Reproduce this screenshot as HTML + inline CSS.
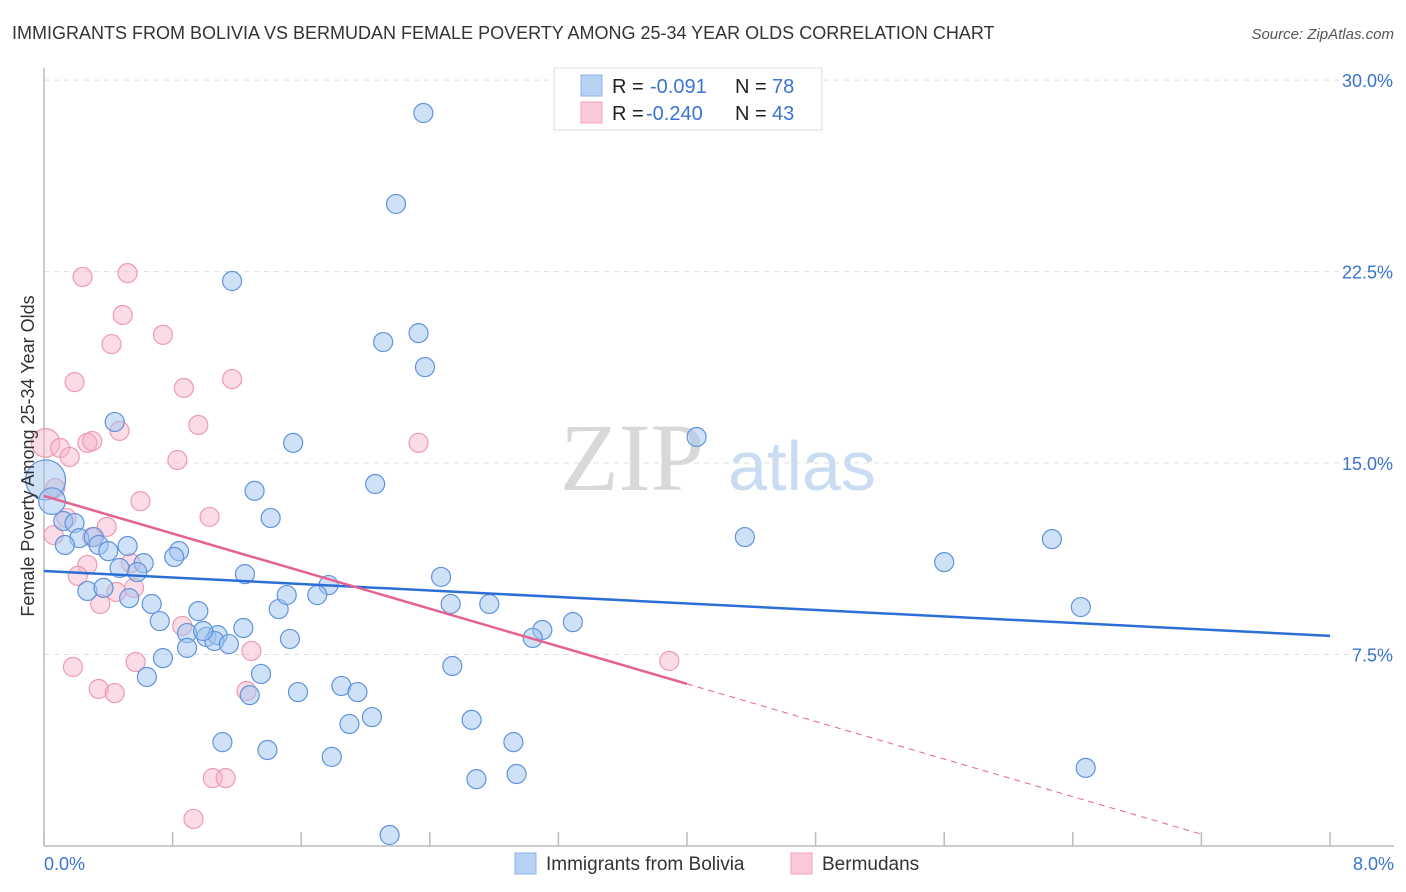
<!DOCTYPE html>
<html><head><meta charset="utf-8"><style>
body{margin:0;background:#fff;font-family:"Liberation Sans",sans-serif;}
svg{display:block}
</style></head><body>
<svg id="chart" width="1406" height="892" xmlns="http://www.w3.org/2000/svg">
<text x="12" y="39" font-size="18" fill="#333">IMMIGRANTS FROM BOLIVIA VS BERMUDAN FEMALE POVERTY AMONG 25-34 YEAR OLDS CORRELATION CHART</text>
<text x="1394" y="39" font-size="15" fill="#555" font-style="italic" text-anchor="end">Source: ZipAtlas.com</text>
<g>
<text x="632" y="490" font-size="96" font-family="Liberation Serif,serif" fill="#d8d8d8" text-anchor="middle">ZIP</text>
<text x="802" y="490" font-size="70" fill="#c9dcf2" text-anchor="middle">atlas</text>
</g>
<g id="grid"></g>
<g id="axes"></g>
<g id="points"></g>
<g id="trends"></g>
<text transform="translate(34,456) rotate(-90)" font-size="18" fill="#333" text-anchor="middle">Female Poverty Among 25-34 Year Olds</text>
<text x="44" y="870" font-size="18" fill="#3a74d0">0.0%</text>
<text x="1394" y="870" font-size="18" fill="#3a74d0" text-anchor="end">8.0%</text>
<g>
<rect x="554" y="68" width="268" height="62" fill="#fff" stroke="#ddd"/>
<rect x="581" y="75" width="21" height="21" fill="#b7d1f3" stroke="#8db3e8"/>
<text x="612" y="93" font-size="20" fill="#222">R = </text><text x="650" y="93" font-size="20" fill="#3a74d0">-0.091</text>
<text x="735" y="93" font-size="20" fill="#222">N = </text><text x="772" y="93" font-size="20" fill="#3a74d0">78</text>
<rect x="581" y="102" width="21" height="21" fill="#fbc9d8" stroke="#f1a3bb"/>
<text x="612" y="120" font-size="20" fill="#222">R = </text><text x="646" y="120" font-size="20" fill="#3a74d0">-0.240</text>
<text x="735" y="120" font-size="20" fill="#222">N = </text><text x="772" y="120" font-size="20" fill="#3a74d0">43</text>
</g>
<g>
<rect x="515" y="853" width="21" height="21" fill="#b7d1f3" stroke="#8db3e8"/>
<text x="546" y="870" font-size="19" fill="#333">Immigrants from Bolivia</text>
<rect x="791" y="853" width="21" height="21" fill="#fbc9d8" stroke="#f1a3bb"/>
<text x="822" y="870" font-size="19" fill="#333">Bermudans</text>
</g>
</svg>
<script>
const yTicks=[7.5,15,22.5,30];
const yTickLabels=["7.5%","15.0%","22.5%","30.0%"];
const xTicks=[0,0.8,1.6,2.4,3.2,4.0,4.8,5.6,6.4,7.2,8.0];
const boliviaX=[2.36,2.19,1.17,2.11,2.33,2.37,0.44,4.06,1.55,2.06,1.31,1.41,4.36,6.27,5.60,6.45,0.12,0.19,0.22,0.13,0.31,0.34,0.40,0.52,0.84,0.81,0.62,0.47,0.58,1.25,2.47,1.77,0.27,0.37,0.53,0.67,0.96,1.46,1.51,1.70,2.53,2.77,3.29,3.10,3.04,0.72,1.24,0.89,1.01,1.08,1.06,1.15,1.53,0.99,0.89,0.74,0.64,1.35,2.54,1.58,1.85,1.95,1.28,2.04,1.90,2.66,1.11,1.39,1.79,2.92,2.69,2.94,6.48,2.15,0.01,0.05];
const boliviaY=[28.71,25.15,22.13,19.74,20.09,18.76,16.61,16.02,15.79,14.18,13.91,12.85,12.10,12.02,11.12,9.36,12.73,12.65,12.06,11.79,12.10,11.79,11.55,11.75,11.55,11.32,11.08,10.89,10.73,10.65,10.54,10.22,9.99,10.11,9.71,9.48,9.20,9.28,9.83,9.83,9.48,9.48,8.77,8.46,8.15,8.81,8.54,8.34,8.19,8.26,8.03,7.91,8.11,8.42,7.76,7.36,6.62,6.74,7.05,6.03,6.27,6.03,5.91,5.05,4.78,4.94,4.07,3.76,3.49,4.07,2.62,2.82,3.06,0.43,14.34,13.51];
const boliviaSize=[];for(let i=0;i<boliviaX.length;i++)boliviaSize.push(1);boliviaSize[74]=2.1;boliviaSize[75]=1.4;
const bermudaX=[0.24,0.52,0.49,0.74,0.42,0.19,0.87,1.17,0.96,0.47,0.27,0.30,0.01,0.10,0.16,0.83,2.33,0.60,0.07,1.03,0.14,0.39,0.06,0.30,0.27,0.54,0.21,0.45,0.35,0.56,0.86,1.29,0.18,0.57,0.34,0.44,1.26,3.89,1.05,1.13,0.93];
const bermudaY=[22.29,22.44,20.80,20.02,19.66,18.17,17.94,18.29,16.49,16.26,15.79,15.86,15.79,15.59,15.24,15.12,15.79,13.51,14.02,12.89,12.85,12.50,12.18,12.10,11.01,11.08,10.58,9.95,9.48,10.11,8.62,7.64,7.01,7.21,6.15,5.99,6.07,7.25,2.66,2.66,1.06];
const bermudaSize=[];for(let i=0;i<bermudaX.length;i++)bermudaSize.push(1);bermudaSize[12]=1.5;
const boliviaTrend=[10.77,8.23];   // y at x=0 and x=8
const bermudaTrend=[13.71,-1.84];  // intercept, slope per %
const bermudaSolidEnd=4.0, bermudaDashEnd=7.2;

const NS="http://www.w3.org/2000/svg";
const X0=44,X1=1330,Y0=846,YPX=25.53;
function sx(v){return X0+v/8*(X1-X0);}
function sy(v){return Y0-v*YPX;}
function mk(tag,attrs,parent){const e=document.createElementNS(NS,tag);for(const k in attrs)e.setAttribute(k,attrs[k]);parent.appendChild(e);return e;}
const grid=document.getElementById('grid'),axes=document.getElementById('axes'),pts=document.getElementById('points'),tr=document.getElementById('trends');
yTicks.forEach((t,i)=>{
  const l=mk('line',{x1:X0,x2:1394,y1:sy(t),y2:sy(t),stroke:'#ddd','stroke-dasharray':'5,5'},grid);
  
  
  const tx=mk('text',{x:1393,y:sy(t)+7,'font-size':18,fill:'#3a74d0','text-anchor':'end'},grid);
  tx.textContent=yTickLabels[i];
  
  
});
let a=mk('line',{x1:X0,x2:X0,y1:68,y2:Y0,stroke:'#bbb','stroke-width':1.5},axes);


a=mk('line',{x1:X0,x2:1394,y1:Y0,y2:Y0,stroke:'#bbb','stroke-width':1.5},axes);


xTicks.forEach(t=>{
  const l=mk('line',{x1:sx(t),x2:sx(t),y1:Y0-14,y2:Y0,stroke:'#bbb','stroke-width':1.5},axes);
  
  
});
function drawPts(xs,ys,sz,fill,stroke,name){
  xs.forEach((x,i)=>{
    const c=mk('circle',{cx:sx(x),cy:sy(ys[i]),r:9.5*sz[i],fill:fill,stroke:stroke,'stroke-width':1.2},pts);
    
    
  });
}
drawPts(bermudaX,bermudaY,bermudaSize,'rgba(247,178,200,0.45)','#ec9bb3','point-bermudans');
drawPts(boliviaX,boliviaY,boliviaSize,'rgba(160,196,240,0.5)','#5f93dc','point-bolivia');
let t=mk('line',{x1:sx(0),y1:sy(boliviaTrend[0]),x2:sx(8),y2:sy(boliviaTrend[1]),stroke:'#2b6fd6','stroke-width':2.5},tr);


const pb=x=>bermudaTrend[0]+bermudaTrend[1]*x;
t=mk('line',{x1:sx(0),y1:sy(pb(0)),x2:sx(bermudaSolidEnd),y2:sy(pb(bermudaSolidEnd)),stroke:'#e4628f','stroke-width':2.5},tr);


t=mk('line',{x1:sx(bermudaSolidEnd),y1:sy(pb(bermudaSolidEnd)),x2:sx(bermudaDashEnd),y2:sy(pb(bermudaDashEnd)),stroke:'#e4628f','stroke-width':1,'stroke-dasharray':'6,5'},tr);


</script>
</body></html>
